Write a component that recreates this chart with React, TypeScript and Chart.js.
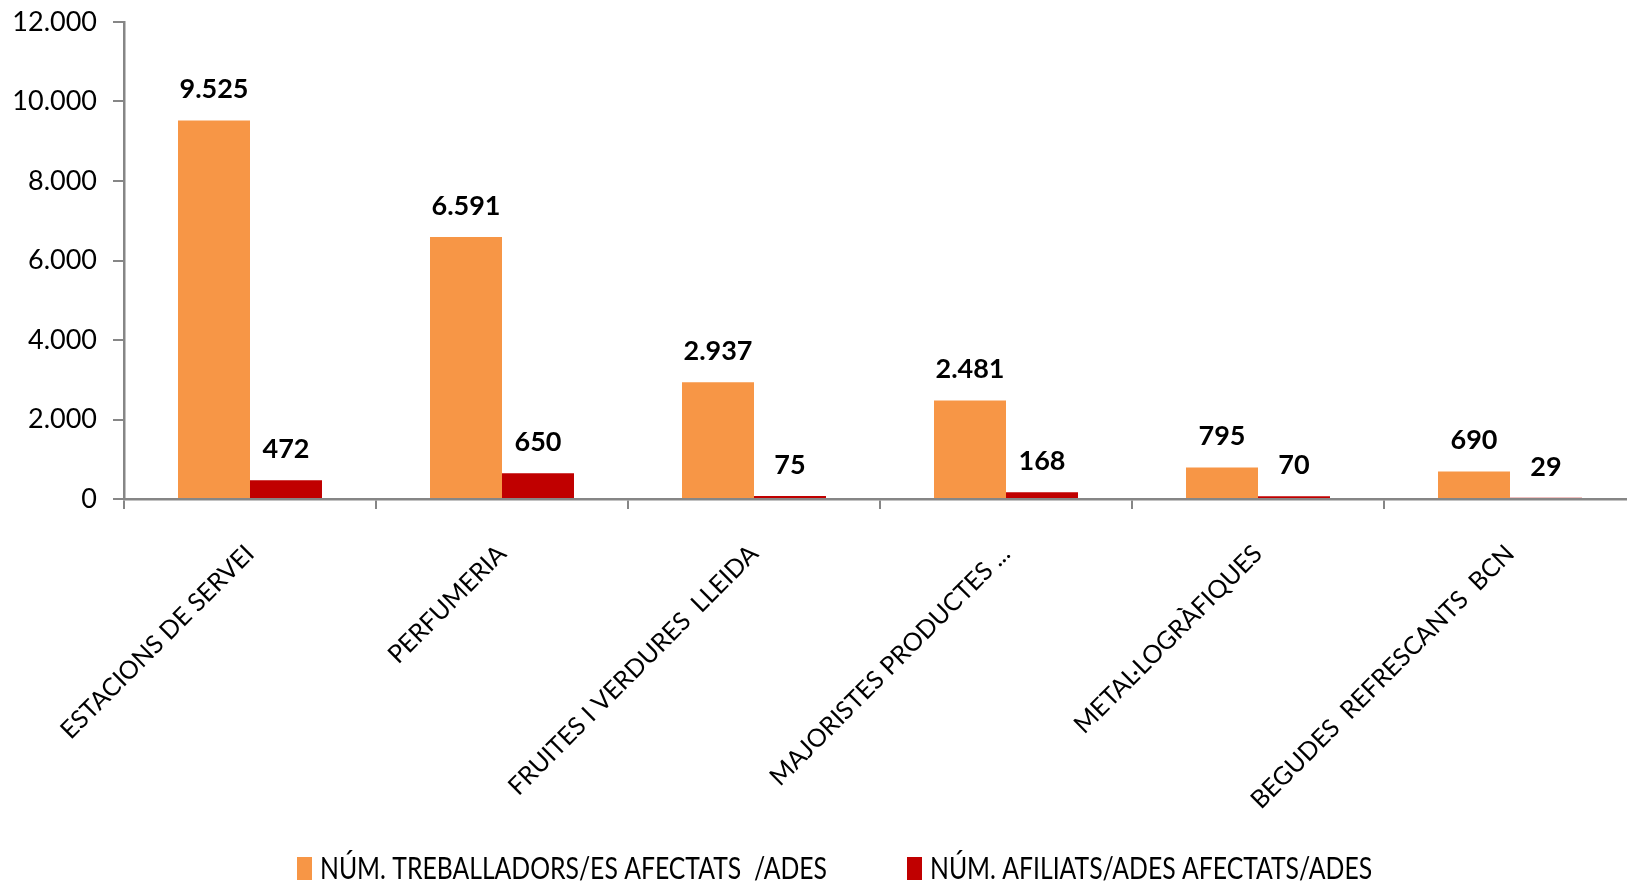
import React, { useEffect, useRef } from "react";
import { Chart, registerables } from "chart.js";

Chart.register(...registerables);

const categories = [
  "ESTACIONS DE SERVEI",
  "PERFUMERIA",
  "FRUITES I VERDURES  LLEIDA",
  "MAJORISTES PRODUCTES ...",
  "METAL·LOGRÀFIQUES",
  "BEGUDES  REFRESCANTS  BCN",
];
const treballadors = [9525, 6591, 2937, 2481, 795, 690];
const afiliats = [472, 650, 75, 168, 70, 29];
const seriesNames = [
  "NÚM. TREBALLADORS/ES AFECTATS  /ADES",
  "NÚM. AFILIATS/ADES AFECTATS/ADES",
];
const seriesColors = ["#F79646", "#C00000"];
const yMin = 0;
const yMax = 12000;
const yStep = 2000;

const fmt = (n: number) => String(n).replace(/\B(?=(\d{3})+(?!\d))/g, ".");

const AXIS = "#868686";
const FONT = "Lato";
const PLOT_TOP = 22;
const PLOT_BOTTOM = 499;

const valueLabels = {
  id: "valueLabels",
  afterDatasetsDraw(chart: any) {
    const ctx = chart.ctx;
    ctx.save();
    ctx.font = `bold 27px ${FONT}`;
    ctx.fillStyle = "#000";
    ctx.textAlign = "center";
    ctx.textBaseline = "middle";
    chart.data.datasets.forEach((ds: any, i: number) => {
      const meta = chart.getDatasetMeta(i);
      meta.data.forEach((el: any, j: number) => {
        ctx.fillText(fmt(ds.data[j]), el.x, el.y - 31);
      });
    });
    ctx.restore();
  },
};

// Legend drawn at the bottom in a condensed face, like the original
const bottomLegend = {
  id: "bottomLegend",
  afterDraw(chart: any) {
    const ctx = chart.ctx;
    ctx.save();
    ctx.font = `30px ${FONT}`;
    ctx.textBaseline = "alphabetic";
    ctx.textAlign = "left";
    const sx = 507 / ctx.measureText(chart.data.datasets[0].label).width;
    let x = 297;
    const boxTop = 857;
    const baseline = 879;
    chart.data.datasets.forEach((ds: any) => {
      ctx.fillStyle = ds.backgroundColor;
      ctx.fillRect(x, boxTop, 15, 23);
      const tx = x + 23;
      const w = ctx.measureText(ds.label).width * sx;
      ctx.save();
      ctx.translate(tx, baseline);
      ctx.scale(sx, 1);
      ctx.fillStyle = "#000";
      ctx.fillText(ds.label, 0, 0);
      ctx.restore();
      x = tx + w + 80;
    });
    ctx.restore();
  },
};

export default function App() {
  const ref = useRef<HTMLCanvasElement>(null);
  useEffect(() => {
    const chart = new Chart(ref.current as HTMLCanvasElement, {
      type: "bar",
      data: {
        labels: categories,
        datasets: [
          {
            label: seriesNames[0],
            data: treballadors,
            backgroundColor: seriesColors[0],
            borderWidth: 0,
            categoryPercentage: 0.5714,
            barPercentage: 1,
          },
          {
            label: seriesNames[1],
            data: afiliats,
            backgroundColor: seriesColors[1],
            borderWidth: 0,
            categoryPercentage: 0.5714,
            barPercentage: 1,
          },
        ],
      },
      options: {
        animation: false,
        responsive: false,
        devicePixelRatio: 1,
        layout: { padding: { top: PLOT_TOP, right: 24, left: 0, bottom: 0 } },
        plugins: {
          tooltip: { enabled: false },
          legend: { display: false },
        },
        scales: {
          x: {
            afterFit: (s: any) => {
              s.height = s.chart.height - PLOT_BOTTOM;
            },
            border: { display: true, color: AXIS, width: 2.5 },
            grid: {
              offset: true,
              drawOnChartArea: false,
              drawTicks: true,
              tickLength: 10,
              color: AXIS,
              lineWidth: 2,
            },
            ticks: {
              autoSkip: false,
              maxRotation: 45,
              minRotation: 45,
              padding: 30,
              color: "#000",
              font: { family: FONT, size: 25 },
            },
          },
          y: {
            min: yMin,
            max: yMax,
            afterFit: (s: any) => {
              s.width = 124;
              s.paddingTop = 0;
              s.paddingBottom = 0;
            },
            border: { display: true, color: AXIS, width: 2.5 },
            grid: {
              drawOnChartArea: false,
              drawTicks: true,
              tickLength: 11,
              color: AXIS,
              lineWidth: 2,
            },
            ticks: {
              stepSize: yStep,
              padding: 16,
              color: "#000",
              font: { family: FONT, size: 27 },
              callback: (v: any) => fmt(Number(v)),
            },
          },
        },
      },
      plugins: [valueLabels, bottomLegend],
    });
    return () => chart.destroy();
  }, []);
  return (
    <div
      style={{
        position: "absolute",
        left: 0,
        top: 0,
        width: 1627,
        height: 882,
        overflow: "hidden",
        background: "#fff",
      }}
    >
      <canvas
        ref={ref}
        width={1660}
        height={882}
        style={{ display: "block", width: 1660, height: 882 }}
      />
    </div>
  );
}
